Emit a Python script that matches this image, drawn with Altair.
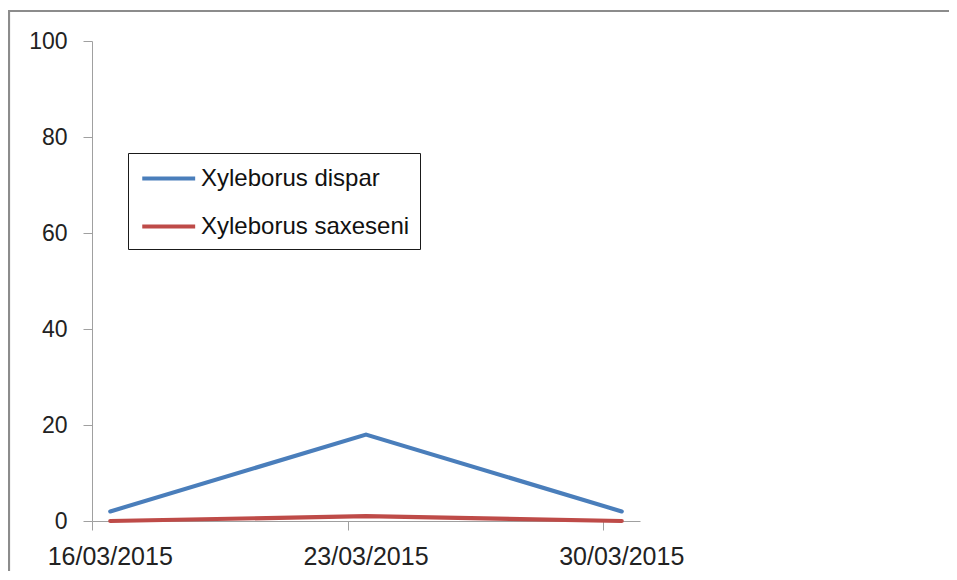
import altair as alt
import pandas as pd

dates = ["16/03/2015", "23/03/2015", "30/03/2015"]
series_names = ["Xyleborus dispar", "Xyleborus saxeseni"]
dispar = [2, 18, 2]
saxeseni = [0, 1, 0]
colors = ["#4a7ebb", "#be4b48"]
y_ticks = [0, 20, 40, 60, 80, 100]

def mid_day(d):
    # Excel date axis: each point sits in the middle of its day
    t = pd.to_datetime(d, format="%d/%m/%Y") + pd.Timedelta(hours=12)
    return t.strftime("%Y-%m-%dT%H:%M:%S")

rows = []
for name, vals in zip(series_names, [dispar, saxeseni]):
    for d, v in zip(dates, vals):
        rows.append({"date": mid_day(d), "series": name, "value": v})
df = pd.DataFrame(rows)
labels_df = pd.DataFrame({"date": [mid_day(d) for d in dates], "label": dates})

tick_dates = [
    {"year": 2015, "month": 3, "date": 16, "utc": True},
    {"year": 2015, "month": 3, "date": 23, "utc": True},
    {"year": 2015, "month": 3, "date": 30, "utc": True},
]

W, H = 548, 480
PAD = {"left": 84, "top": 33, "right": 309, "bottom": 50}
FONT = "Liberation Sans"

x_scale = alt.Scale(
    type="utc",
    domain=[
        {"year": 2015, "month": 3, "date": 16, "utc": True},
        {"year": 2015, "month": 3, "date": 31, "utc": True},
    ],
)

one = pd.DataFrame({"a": [0]})
frame_top = alt.Chart(one).mark_rule(stroke="#8c8c8c", strokeWidth=2.2).encode(
    x=alt.value(-84), x2=alt.value(W + PAD["right"]), y=alt.value(-30)
)
frame_left = alt.Chart(one).mark_rule(stroke="#8c8c8c", strokeWidth=2.2).encode(
    x=alt.value(-83), y=alt.value(-31), y2=alt.value(H + PAD["bottom"])
)

lines = alt.Chart(df).mark_line(strokeWidth=4.2, strokeCap="round").encode(
    x=alt.X(
        "date:T",
        scale=x_scale,
        axis=alt.Axis(
            title=None,
            values=tick_dates,
            labels=False,
            tickSize=9,
            grid=False,
            domainColor="#a0a0a0",
            tickColor="#a0a0a0",
        ),
    ),
    y=alt.Y(
        "value:Q",
        scale=alt.Scale(domain=[0, 100], nice=False),
        axis=alt.Axis(
            title=None,
            values=y_ticks,
            tickSize=9,
            labelPadding=16,
            grid=False,
            domainColor="#a0a0a0",
            tickColor="#a0a0a0",
            labelColor="#222222",
            labelFont=FONT,
            labelFontSize=23,
        ),
    ),
    color=alt.Color(
        "series:N",
        scale=alt.Scale(domain=series_names, range=colors),
        legend=alt.Legend(
            title=None,
            orient="none",
            legendX=36,
            legendY=112,
            strokeColor="#1a1a1a",
            fillColor="white",
            padding=10,
            symbolType="M-0.85,0L3.15,0",
            symbolSize=700,
            symbolStrokeWidth=4,
            labelFont=FONT,
            labelFontSize=24,
            labelColor="#111111",
            labelLimit=400,
            rowPadding=20,
            labelOffset=32,
        ),
    ),
)

xlabels = alt.Chart(labels_df).mark_text(
    font=FONT, fontSize=25, color="#222222", baseline="top", align="center"
).encode(
    x=alt.X("date:T", scale=x_scale),
    y=alt.value(H + 24),
    text="label:N",
)

chart = alt.layer(frame_top, frame_left, lines, xlabels).properties(
    width=W,
    height=H,
    padding=PAD,
    autosize=alt.AutoSizeParams(type="none"),
).configure(background="white", view=alt.ViewConfig(stroke="transparent"))

chart.save("out.html", embed_options={"renderer": "svg", "actions": False})
